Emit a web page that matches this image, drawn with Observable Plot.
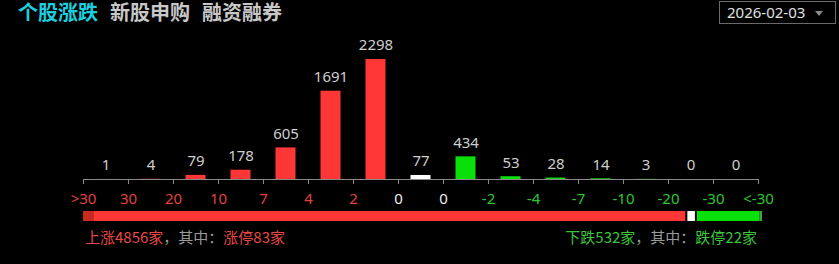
<!DOCTYPE html>
<html><head><meta charset="utf-8">
<script src="https://cdn.jsdelivr.net/npm/d3@7"></script>
<script src="https://cdn.jsdelivr.net/npm/@observablehq/plot@0.6"></script>
<style>
html,body{margin:0;padding:0;background:#000;width:839px;height:264px;overflow:hidden;position:relative;font-family:"Noto Sans CJK SC","Noto Sans",sans-serif;}
#tabs{position:absolute;left:18px;top:3px;font-family:"Liberation Sans","Noto Sans CJK SC",sans-serif;font-size:20px;line-height:20px;font-weight:700;white-space:nowrap;}
#tabs span{margin-right:12px;color:#c8c8c8;}
#tabs span.on{color:#1ccfdf;}
#date{position:absolute;left:719px;top:1px;width:115px;height:21px;border:1px solid #6a6a6a;}
#date .t{position:absolute;left:7px;top:0;font-family:"Noto Sans",sans-serif;font-size:15px;line-height:21px;color:#e0e0e0;}
#date .tri{position:absolute;left:95px;top:9px;width:0;height:0;border-left:4px solid transparent;border-right:4px solid transparent;border-top:5px solid #8a8a8a;}
#main{position:absolute;left:0;top:30px;}
#bar{position:absolute;left:0;top:206px;}
.sum{position:absolute;top:228px;font-size:15px;line-height:18px;white-space:nowrap;}
#sumL{left:85px;}
#sumR{right:82px;}
.r{color:#e84848;} .g{color:#3cc43c;} .m{color:#9a9a9a;}
svg{display:block;}
</style></head><body>
<div id="tabs"></div>
<div id="date"><div class="t"></div><div class="tri"></div></div>
<div id="main"></div>
<div id="bar"></div>
<div id="sumL" class="sum"></div>
<div id="sumR" class="sum"></div>
<script>
// ---- data ----
const tabLabels = ["个股涨跌", "新股申购", "融资融券"];
const dateLabel = "2026-02-03";
const tickLabels = [">30", "30", "20", "10", "7", "4", "2", "0", "0", "-2", "-4", "-7", "-10", "-20", "-30", "<-30"];
const bucketCounts = [1, 4, 79, 178, 605, 1691, 2298, 77, 434, 53, 28, 14, 3, 0, 0];
const upCount = 4856, limitUpCount = 83, flatCount = 77, downCount = 532, limitDownCount = 22;

// ---- colors ----
const RED = "#ff3636", GREEN = "#0adf0a", WHITE = "#ffffff";
const DARKRED = "#c82a1e", DARKGREEN = "#36a836";
const UPTXT = "#e04242", DOWNTXT = "#2cc82c", FLATTXT = "#eeeeee";

// header
document.getElementById("tabs").innerHTML = tabLabels.map((t, i) => `<span class="${i === 0 ? "on" : ""}">${t}</span>`).join("");
document.querySelector("#date .t").textContent = dateLabel;

const bars = bucketCounts.map((v, i) => ({i, value: v, color: i < 7 ? RED : i === 7 ? WHITE : GREEN}));
const ticks = tickLabels.map((t, i) => ({i, label: t, color: i < 7 ? UPTXT : i < 9 ? FLATTXT : DOWNTXT}));

const main = Plot.plot({
  width: 839, height: 176,
  marginLeft: 83, marginRight: 81, marginTop: 29, marginBottom: 27,
  style: {background: "transparent", overflow: "visible"},
  x: {type: "linear", domain: [0, bucketCounts.length], axis: null},
  y: {domain: [0, d3.max(bucketCounts)], axis: null},
  color: {type: "identity"},
  marks: [
    Plot.rectY(bars, {x1: d => d.i, x2: d => d.i + 1, y1: 0, y2: "value", fill: "color", insetLeft: 12.5, insetRight: 12.5}),
    Plot.ruleY([0], {stroke: "#8a8a8a", strokeWidth: 1}),
    Plot.ruleX(ticks, {x: "i", y1: 0, y2: 0, insetBottom: -5, stroke: "#8a8a8a"}),
    Plot.text(bars, {x: d => d.i + 0.5, y: "value", text: d => String(d.value), dy: -14, fill: "#cfcfcf", fontSize: 15, fontFamily: "Noto Sans", lineAnchor: "middle"}),
    Plot.text(ticks, {x: "i", y: 0, text: "label", fill: "color", dy: 20, fontSize: 15, fontFamily: "Noto Sans", lineAnchor: "middle"})
  ]
});
document.getElementById("main").appendChild(main);

const segs = [
  {k: "limitUp", v: limitUpCount, c: DARKRED, il: 0, ir: 0},
  {k: "up", v: upCount - limitUpCount, c: RED, il: 0, ir: 1},
  {k: "flat", v: flatCount, c: WHITE, il: 1, ir: 1},
  {k: "down", v: downCount - limitDownCount, c: GREEN, il: 1, ir: 0},
  {k: "limitDown", v: limitDownCount, c: DARKGREEN, il: 0, ir: 0}
];
let acc = 0;
segs.forEach(s => { s.x1 = acc; acc += s.v; s.x2 = acc; });
const barPlot = Plot.plot({
  width: 839, height: 20,
  marginLeft: 83, marginRight: 77, marginTop: 5, marginBottom: 5,
  style: {background: "transparent"},
  x: {domain: [0, acc], axis: null},
  color: {type: "identity"},
  marks: [
    ...segs.map(s => Plot.rectX([s], {x1: "x1", x2: "x2", fill: "c", insetLeft: s.il, insetRight: s.ir}))
  ]
});
document.getElementById("bar").appendChild(barPlot);

document.getElementById("sumL").innerHTML = `<span class="r">上涨${upCount}家</span><span class="m">，其中：</span><span class="r">涨停${limitUpCount}家</span>`;
document.getElementById("sumR").innerHTML = `<span class="g">下跌${downCount}家</span><span class="m">，其中：</span><span class="g">跌停${limitDownCount}家</span>`;
</script>
</body></html>
